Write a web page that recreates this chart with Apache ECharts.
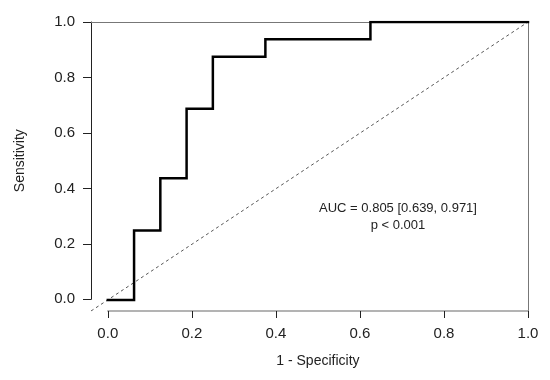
<!DOCTYPE html>
<html>
<head>
<meta charset="utf-8">
<script src="https://cdn.jsdelivr.net/npm/echarts@6/dist/echarts.min.js"></script>
<style>html,body{margin:0;padding:0;background:#fff}#c{width:550px;height:380px}</style>
</head>
<body>
<div id="c"></div>
<script>
// ROC curve points (1 - specificity, sensitivity)
const fpr = [0, 0.0625, 0.0625, 0.125, 0.125, 0.1875, 0.1875, 0.25, 0.25, 0.375, 0.375, 0.625, 0.625, 1.0];
const tpr = [0, 0, 0.25, 0.25, 0.4375, 0.4375, 0.6875, 0.6875, 0.875, 0.875, 0.9375, 0.9375, 1.0, 1.0];
const diagX = [-0.04, 1.0];
const diagY = [-0.04, 1.0];
const xTicks = [0, 0.2, 0.4, 0.6, 0.8, 1.0];
const yTicks = [0, 0.2, 0.4, 0.6, 0.8, 1.0];
const xTitle = '1 - Specificity';
const yTitle = 'Sensitivity';
const annot = ['AUC = 0.805 [0.639, 0.971]', 'p < 0.001'];

const chart = echarts.init(document.getElementById('c'));
const font = 'Liberation Sans, Arial, sans-serif';
const hidden = {show:false};
chart.setOption({
  animation:false,
  grid:[
    {left:91, right:22, top:22, bottom:69},
    {left:107.8, right:22, top:22, bottom:80.7}
  ],
  xAxis:[
    {type:'value', gridIndex:0, min:-0.04, max:1, position:'top',
     axisLine:{show:true, onZero:false, lineStyle:{color:'#777', width:1}},
     axisTick:hidden, axisLabel:hidden, splitLine:hidden},
    {type:'value', gridIndex:1, min:xTicks[0], max:xTicks[xTicks.length-1], interval:0.2, position:'bottom', offset:11.7,
     axisLine:{show:true, onZero:false, lineStyle:{color:'#9a9a9a', width:1.5}},
     axisTick:{show:true, length:7, lineStyle:{color:'#222', width:1}},
     axisLabel:{show:true, margin:15, color:'#222', fontSize:15, fontFamily:font, formatter:v=>v.toFixed(1)},
     splitLine:hidden,
     name:xTitle, nameLocation:'middle', nameGap:43,
     nameTextStyle:{color:'#222', fontSize:14, fontFamily:font}}
  ],
  yAxis:[
    {type:'value', gridIndex:0, min:-0.04, max:1, position:'right',
     axisLine:{show:true, onZero:false, lineStyle:{color:'#777', width:1}},
     axisTick:hidden, axisLabel:hidden, splitLine:hidden},
    {type:'value', gridIndex:1, min:yTicks[0], max:yTicks[yTicks.length-1], interval:0.2, position:'left', offset:16.8,
     axisLine:{show:true, onZero:false, lineStyle:{color:'#222', width:1}},
     axisTick:{show:true, length:8, lineStyle:{color:'#222', width:1}},
     axisLabel:{show:true, margin:16, color:'#222', fontSize:15, fontFamily:font, formatter:v=>v.toFixed(1)},
     splitLine:hidden,
     name:yTitle, nameLocation:'middle', nameGap:64, nameRotate:90,
     nameTextStyle:{color:'#222', fontSize:14, fontFamily:font}}
  ],
  series:[
    {type:'line', xAxisIndex:0, yAxisIndex:0, symbol:'none', silent:true,
     data:diagX.map((x,i)=>[x, diagY[i]]),
     lineStyle:{color:'#555', width:1, type:[3,3]}},
    {type:'line', xAxisIndex:0, yAxisIndex:0, symbol:'none', silent:true,
     data:fpr.map((x,i)=>[x, tpr[i]]),
     lineStyle:{color:'#000', width:2.5, join:'miter', cap:'square'}}
  ],
  graphic:[
    {type:'text', left:null, x:398, y:208, style:{text:annot[0], fill:'#222', font:'13px '+font, textAlign:'center', textVerticalAlign:'middle'}},
    {type:'text', x:398, y:225, style:{text:annot[1], fill:'#222', font:'13px '+font, textAlign:'center', textVerticalAlign:'middle'}}
  ]
});
</script>
</body>
</html>
